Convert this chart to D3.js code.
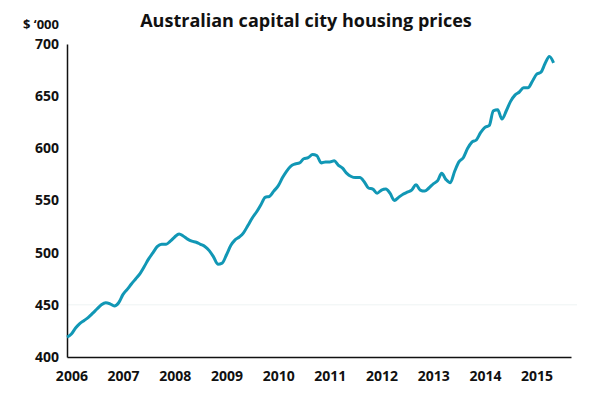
<!DOCTYPE html>
<html>
<head>
    <meta charset="utf-8">
    <script src="https://d3js.org/d3.v7.min.js"></script>
    <title>Australian capital city housing prices</title>
    <style>
        body{ margin: 0; background: #fff; }
        svg{ display: block; font-family: "Open Sans", Lato, sans-serif; }
        .tick text{ font-family: "Open Sans", Lato, sans-serif; font-size: 14px; font-weight: 700; fill: #111; }
        .title{ font-size: 18px; font-weight: 700; fill: #111; }
        .unit{ font-size: 13px; font-weight: 700; fill: #111; }
    </style>
</head>
<body>
<svg width="600" height="397"></svg>
<script>
    // monthly series, first point Dec 2005 ($ '000)
    let startYear = 2005, startMonth = 11
    let prices = [
        419, 422, 428, 432, 435, 438, 442, 446, 450, 452, 451, 449,
        452, 460, 465, 470, 475, 480, 487, 494, 500, 506, 508, 508,
        511, 515, 518, 516, 513, 511, 510, 508, 506, 502, 496, 489,
        490, 498, 507, 512, 515, 519, 526, 533, 539, 546, 553, 554,
        559, 564, 572, 578, 583, 585, 586, 590, 591, 594, 593, 586,
        587, 587, 588, 584, 581, 576, 573, 572, 572, 568, 562, 561,
        557, 560, 561, 557, 550, 553, 556, 558, 560, 565, 560, 559,
        562, 566, 569, 576, 570, 567, 578, 587, 591, 600, 606, 608,
        615, 620, 622, 636, 637, 628, 636, 645, 651, 654, 658, 658,
        664, 671, 673, 681, 688, 682
    ]
    let yearTicks = [2006, 2007, 2008, 2009, 2010, 2011, 2012, 2013, 2014, 2015]
    let priceTicks = [400, 450, 500, 550, 600, 650, 700]

    let data = prices.map(function(v, i){
        return {date: new Date(startYear, startMonth + i, 1), value: v}
    })

    let svg = d3.select('svg')

    let x = d3.scaleTime()
        .domain([new Date(2005, 11, 1), new Date(2015, 8, 1)])
        .range([67, 571])
    let y = d3.scaleLinear()
        .domain([400, 700])
        .range([357, 44])

    // faint gridline
    svg.append('line')
        .attr('x1', 67).attr('x2', 577)
        .attr('y1', y(450)).attr('y2', y(450))
        .attr('stroke', '#eef3f3').attr('stroke-width', 1)

    let xAxis = svg.append('g')
        .attr('transform', 'translate(0,' + y(400) + ')')
        .call(d3.axisBottom(x)
            .tickValues(yearTicks.map(function(d){ return new Date(d, 0, 1) }))
            .tickFormat(d3.timeFormat('%Y'))
            .tickSize(0).tickPadding(14))
    xAxis.select('.domain').attr('stroke', '#111').attr('stroke-width', 1.5)

    let yAxis = svg.append('g')
        .attr('transform', 'translate(67,0)')
        .call(d3.axisLeft(y).tickValues(priceTicks).tickSize(0).tickPadding(8))
    yAxis.select('.domain').attr('stroke', '#111').attr('stroke-width', 1.5)

    svg.append('path')
        .datum(data)
        .attr('fill', 'none')
        .attr('stroke', '#1197b5')
        .attr('stroke-width', 3)
        .attr('stroke-linejoin', 'round')
        .attr('d', d3.line()
            .x(function(d){ return x(d.date) })
            .y(function(d){ return y(d.value) })
            .curve(d3.curveMonotoneX))

    svg.append('text')
        .attr('class', 'title')
        .attr('x', 306).attr('y', 27)
        .attr('text-anchor', 'middle')
        .text('Australian capital city housing prices')

    svg.append('text')
        .attr('class', 'unit')
        .attr('x', 59).attr('y', 29)
        .attr('text-anchor', 'end')
        .text('$ ‘000')
</script>
</body>
</html>
